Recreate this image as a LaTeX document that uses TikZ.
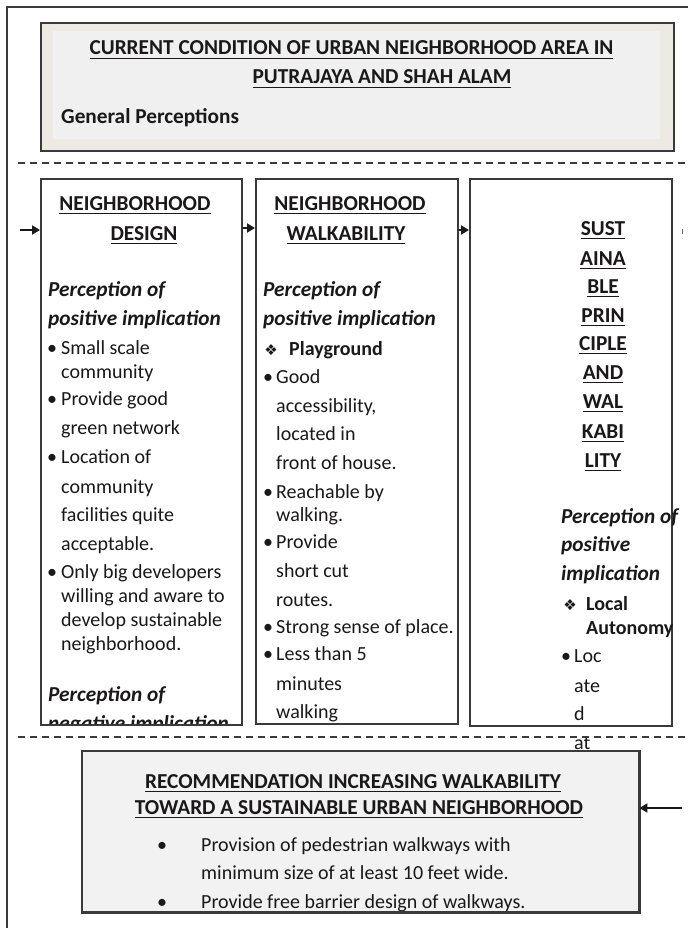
\documentclass[tikz,border=0pt]{standalone}
\usepackage{fontspec}
\setmainfont{Carlito}
\newfontfamily\djv{DejaVu Sans}
\usetikzlibrary{arrows.meta}
\definecolor{ink}{HTML}{1A1818}
\definecolor{frame}{HTML}{3A3A3A}
\definecolor{beige}{HTML}{ECEAE2}
\definecolor{panel}{HTML}{F0F0F0}
\definecolor{panelb}{HTML}{F2F2F2}
\newcommand\myul[1]{\leavevmode\setbox0\hbox{#1}\rlap{\copy0}\rule[-4.4pt]{\wd0}{1.8pt}}
\tikzset{
  txt/.style={anchor=base west, inner sep=0pt, font=\fontsize{20}{24}\selectfont, text=ink},
  btxt/.style={txt, font=\fontsize{20}{24}\selectfont\bfseries},
  gtxt/.style={txt, font=\fontsize{21.3}{24}\selectfont\bfseries},
  pi/.style={txt, font=\fontsize{21.3}{24}\selectfont\bfseries\itshape},
  hd/.style={anchor=base, inner sep=0pt, font=\fontsize{21.3}{24}\selectfont\bfseries, text=ink},
  bul/.style={anchor=base, inner sep=0pt, font=\fontsize{20}{24}\selectfont, text=ink},
  dia/.style={anchor=base, inner sep=0pt, font=\djv\fontsize{15}{18}\selectfont, text=ink},
  colbox/.style={draw=frame, line width=1.8pt, fill=white, inner sep=0pt, anchor=north west},
  arr/.style={-{Triangle[length=8pt,width=9pt]}, line width=1.8pt, draw=ink},
  sep/.style={draw=frame, line width=1.4pt, dash pattern=on 7pt off 5pt}
}
\begin{document}
\begin{tikzpicture}[x=1pt,y=-1pt]
\useasboundingbox[fill=white] (0,0) rectangle (688,928);
% outer frame
\draw[line width=1.4pt, frame] (7,928) -- (7,7) -- (688,7);

% top box
\node[draw=frame, line width=2pt, fill=beige, anchor=north west, inner sep=0pt,
      minimum width=633pt, minimum height=128pt] (top) at (40,22) {};
\node[fill=panel, anchor=north west, inner sep=0pt,
      minimum width=607pt, minimum height=108pt] (topin) at (53,31) {};
\node[hd] (t1) at (351.5,55) {\myul{CURRENT CONDITION OF URBAN NEIGHBORHOOD AREA IN}};
\node[hd] (t2) at (382,84) {\myul{PUTRAJAYA AND SHAH ALAM}};
\node[gtxt] (t3) at (61,124) {General Perceptions};

% separators
\draw[sep] (18,163) -- (688,163);

% columns
\node[colbox, minimum width=201pt, minimum height=546pt] (c1) at (40,178) {};
\node[colbox, minimum width=202pt, minimum height=545pt] (c2) at (255,178) {};
\node[colbox, minimum width=202pt, minimum height=547pt] (c3) at (469,178) {};

% arrows
\coordinate (s0) at (20,230);
\coordinate (y1) at (0,228);
\coordinate (y2) at (0,230);
\draw[arr] (s0) -- (s0 -| c1.west);
\draw[arr] (c1.east |- y1) -- (c2.west |- y1);
\draw[arr] (c2.east |- y2) -- (c3.west |- y2);
\draw[line width=0.8pt, black!60] (682,229) -- (682,234);

% column 1
\node[hd] (a1) at (135,210) {\myul{NEIGHBORHOOD}};
\node[hd] (a2) at (144,240) {\myul{DESIGN}};
\node[pi] (a3) at (48,296) {Perception of};
\node[pi] (a4) at (48,325) {positive implication};
\node[bul] (a5b) at (52,354) {•};
\node[txt] (a5) at (61,354) {Small scale};
\node[txt] (a6) at (61,378) {community};
\node[bul] (a7b) at (52,405) {•};
\node[txt] (a7) at (61,405) {Provide good};
\node[txt] (a8) at (61,434) {green network};
\node[bul] (a9b) at (52,463) {•};
\node[txt] (a9) at (61,463) {Location of};
\node[txt] (a10) at (61,493) {community};
\node[txt] (a11) at (61,521) {facilities quite};
\node[txt] (a12) at (61,550) {acceptable.};
\node[bul] (a13b) at (52,578) {•};
\node[txt] (a13) at (61,578) {Only big developers};
\node[txt] (a14) at (61,602) {willing and aware to};
\node[txt] (a15) at (61,626) {develop sustainable};
\node[txt] (a16) at (61,650) {neighborhood.};
\node[pi] (a17) at (48,701) {Perception of};
\begin{scope}
  \clip (41,179) rectangle (240,723);
  \node[pi] (a18) at (48,730) {negative implication};
\end{scope}

% column 2
\node[hd] (b1) at (350,210) {\myul{NEIGHBORHOOD}};
\node[hd] (b2) at (346,240) {\myul{WALKABILITY}};
\node[pi] (b3) at (263,296) {Perception of};
\node[pi] (b4) at (263,325) {positive implication};
\node[dia] (b5d) at (271,355) {❖};
\node[btxt] (b5) at (289,355) {Playground};
\node[bul] (b6b) at (268,383) {•};
\node[txt] (b6) at (276,383) {Good};
\node[txt] (b7) at (276,412) {accessibility,};
\node[txt] (b8) at (276,440) {located in};
\node[txt] (b9) at (276,469) {front of house.};
\node[bul] (b10b) at (268,498) {•};
\node[txt] (b10) at (276,498) {Reachable by};
\node[txt] (b11) at (276,521) {walking.};
\node[bul] (b12b) at (268,548) {•};
\node[txt] (b12) at (276,548) {Provide};
\node[txt] (b13) at (276,577) {short cut};
\node[txt] (b14) at (276,606) {routes.};
\node[bul] (b15b) at (268,633) {•};
\node[txt] (b15) at (276,633) {Strong sense of place.};
\node[bul] (b16b) at (268,660) {•};
\node[txt] (b16) at (276,660) {Less than 5};
\node[txt] (b17) at (276,690) {minutes};
\node[txt] (b18) at (276,718) {walking};

% column 3
\node[hd] (d1) at (603,235) {\myul{SUST}};
\node[hd] (d2) at (603,265) {\myul{AINA}};
\node[hd] (d3) at (603,293) {\myul{BLE}};
\node[hd] (d4) at (603,322) {\myul{PRIN}};
\node[hd] (d5) at (603,350) {\myul{CIPLE}};
\node[hd] (d6) at (603,379) {\myul{AND}};
\node[hd] (d7) at (603,408) {\myul{WAL}};
\node[hd] (d8) at (603,438) {\myul{KABI}};
\node[hd] (d9) at (603,467) {\myul{LITY}};
\node[pi] (d10) at (561,523) {Perception of};
\node[pi] (d11) at (561,551) {positive};
\node[pi] (d12) at (561,580) {implication};
\node[dia] (d13d) at (570,610) {❖};
\node[btxt] (d13) at (586,610) {Local};
\node[btxt] (d14) at (586,634) {Autonomy};
\node[bul] (d15b) at (566,662) {•};
\node[txt] (d15) at (574,662) {Loc};
\node[txt] (d16) at (574,692) {ate};
\node[txt] (d17) at (574,720) {d};
\node[txt] (d18) at (574,749) {at};

\draw[sep] (18,737) -- (688,737);

% bottom box
\node[fill=panelb, anchor=north west, inner sep=0pt,
      minimum width=557pt, minimum height=161pt] (bb) at (82,751) {};
\node[hd] (e1) at (353,788) {\myul{RECOMMENDATION INCREASING WALKABILITY}};
\node[hd] (e2) at (359,814) {\myul{TOWARD A SUSTAINABLE URBAN NEIGHBORHOOD}};
\node[bul] (e3b) at (162,851) {•};
\node[txt] (e3) at (201,851) {Provision of pedestrian walkways with};
\node[txt] (e4) at (201,879) {minimum size of at least 10 feet wide.};
\node[bul] (e5b) at (162,908) {•};
\node[txt] (e5) at (201,908) {Provide free barrier design of walkways.};
\draw[frame, line width=2.2pt] (bb.north west) rectangle (bb.south east);
\coordinate (s3) at (682,808);
\draw[arr] (s3) -- (s3 -| bb.east);
\end{tikzpicture}
\end{document}
